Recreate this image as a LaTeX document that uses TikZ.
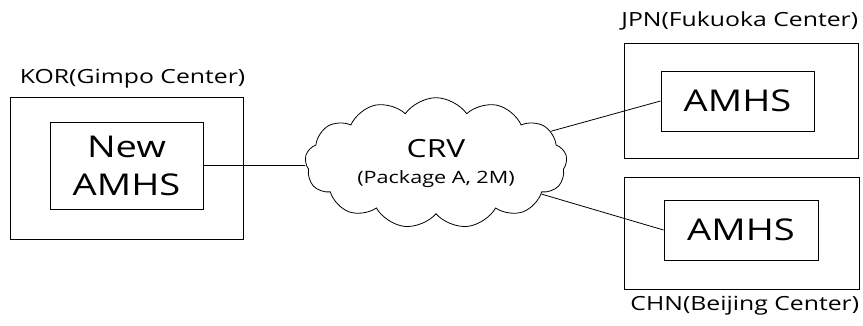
\documentclass[tikz,border=0pt]{standalone}
\usepackage{fontspec}
\setmainfont{Open Sans}[FakeStretch=1.27]
\usetikzlibrary{positioning, shapes.symbols}

\tikzset{
  site/.style={draw, line width=1pt, inner sep=0pt},
  amhs/.style={draw, line width=1pt, inner sep=0pt, align=center,
    font=\fontsize{30}{38}\selectfont},
  tag/.style={inner sep=0pt, font=\fontsize{19.5}{22}\selectfont}
}

\begin{document}
\begin{tikzpicture}[x=1pt, y=-1pt, line width=0.8pt]
	\useasboundingbox (0,0) rectangle (863,325);

	% sites
	\node[site, minimum width=233pt, minimum height=142pt] (kor) at (126.5,168) {};
	\node[site, minimum width=234pt, minimum height=115pt] (jpn) at (741,100.5) {};
	\node[site, minimum width=235pt, minimum height=112pt] (chn) at (741.5,233) {};

	\node[amhs, minimum width=153pt, minimum height=87pt] (kor-amhs) at (126.5,165.5) {New\\AMHS};
	\node[amhs, minimum width=153pt, minimum height=60pt] (jpn-amhs) at (737.5,101) {AMHS};
	\node[amhs, minimum width=154pt, minimum height=60pt] (chn-amhs) at (741,230) {AMHS};

	\node[tag, above right=8pt and 10pt of kor.north west] (kor-tag) {KOR(Gimpo Center)};
	\node[tag, above left=12pt and 0pt of jpn.north east] (jpn-tag) {JPN(Fukuoka Center)};
	\node[tag, below left=6pt and 0pt of chn.south east] (chn-tag) {CHN(Beijing Center)};

	% network
	\node[cloud, draw, cloud puffs=13, cloud puff arc=110, aspect=2.1,
		minimum width=262pt, minimum height=127pt, inner sep=0pt, align=center,
		font=\fontsize{25}{26}\selectfont] (crv) at (436,163)
		{CRV\\{\fontsize{17}{20}\selectfont(Package A, 2M)}};

	\draw (kor-amhs.east) -- (kor-amhs.east -| crv.west)
		(crv) -- (jpn-amhs.west)
		(crv) -- (chn-amhs.west);
\end{tikzpicture}
\end{document}
